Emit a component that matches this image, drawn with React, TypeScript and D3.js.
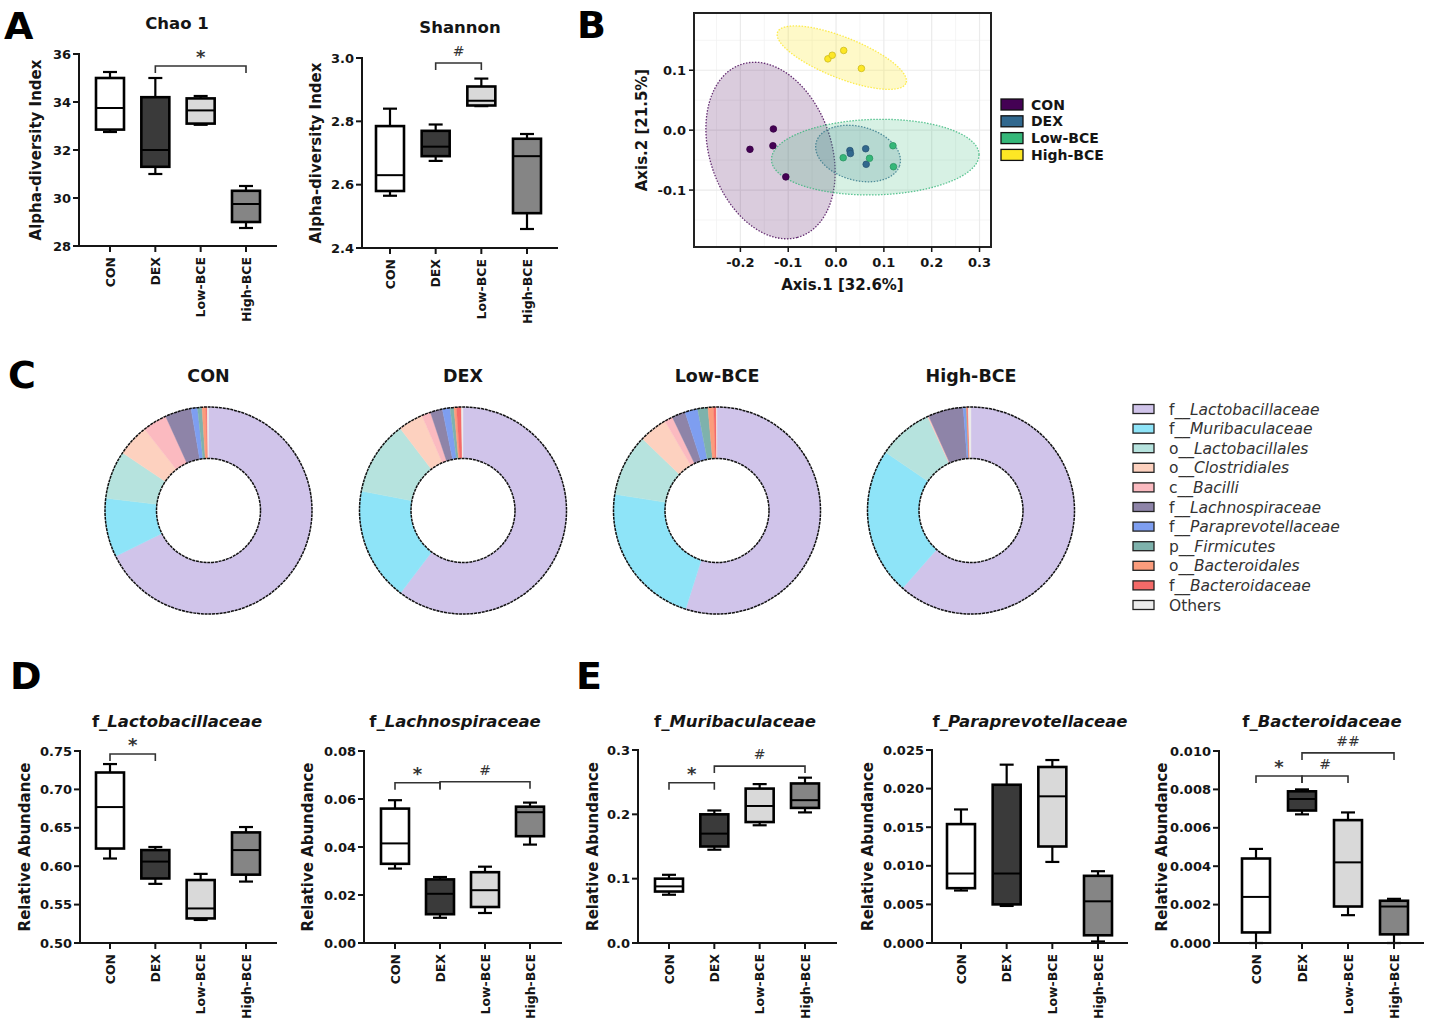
import React from "react";
import * as d3 from "d3";

const FONT = "'DejaVu Sans', 'Liberation Sans', sans-serif";

// ---------- shared categories ----------
const groups = ["CON", "DEX", "Low-BCE", "High-BCE"];
const groupFills = ["#ffffff", "#3a3a3a", "#d9d9d9", "#858585"];

// ---------- box plot statistics: [min, q1, median, q3, max] ----------
const chao1Stats = [
  [32.75, 32.85, 33.75, 35.0, 35.25],
  [31.0, 31.3, 32.0, 34.2, 35.0],
  [33.05, 33.1, 33.65, 34.15, 34.25],
  [28.75, 29.0, 29.75, 30.3, 30.5],
];
const shannonStats = [
  [2.565, 2.58, 2.63, 2.785, 2.84],
  [2.675, 2.69, 2.72, 2.77, 2.79],
  [2.848, 2.85, 2.865, 2.91, 2.935],
  [2.46, 2.51, 2.69, 2.745, 2.76],
];
const lactobacillaceaeStats = [
  [0.61, 0.623, 0.677, 0.722, 0.733],
  [0.577, 0.584, 0.606, 0.621, 0.625],
  [0.53, 0.532, 0.545, 0.582, 0.59],
  [0.58, 0.589, 0.621, 0.644, 0.651],
];
const lachnospiraceaeStats = [
  [0.031, 0.033, 0.0415, 0.056, 0.0595],
  [0.0105, 0.012, 0.0205, 0.0265, 0.0275],
  [0.0125, 0.015, 0.022, 0.0295, 0.0318],
  [0.041, 0.0445, 0.0545, 0.0568, 0.0585],
];
const muribaculaceaeStats = [
  [0.075, 0.08, 0.088, 0.1, 0.106],
  [0.145, 0.15, 0.17, 0.2, 0.206],
  [0.183, 0.188, 0.213, 0.24, 0.247],
  [0.203, 0.21, 0.222, 0.248, 0.257],
];
const paraprevotellaceaeStats = [
  [0.0068, 0.0071, 0.009, 0.0154, 0.0173],
  [0.0048, 0.005, 0.009, 0.0205, 0.0231],
  [0.0105, 0.0125, 0.019, 0.0228, 0.0237],
  [0.0002, 0.001, 0.0054, 0.0087, 0.0093],
];
const bacteroidaceaeStats = [
  [0.0, 0.00055, 0.0024, 0.0044, 0.0049],
  [0.0067, 0.0069, 0.0075, 0.0079, 0.008],
  [0.00145, 0.0019, 0.0042, 0.0064, 0.0068],
  [0.0, 0.00045, 0.0019, 0.0022, 0.0023],
];

// ---------- significance brackets ----------
type Sig = { from: string; to: string; y: number; label: string };
const chao1Sig: Sig[] = [{ from: "DEX", to: "High-BCE", y: 35.5, label: "*" }];
const shannonSig: Sig[] = [{ from: "DEX", to: "Low-BCE", y: 2.984, label: "#" }];
const lactobacillaceaeSig: Sig[] = [{ from: "CON", to: "DEX", y: 0.746, label: "*" }];
const lachnospiraceaeSig: Sig[] = [
  { from: "CON", to: "DEX", y: 0.0668, label: "*" },
  { from: "DEX", to: "High-BCE", y: 0.0672, label: "#" },
];
const muribaculaceaeSig: Sig[] = [
  { from: "CON", to: "DEX", y: 0.249, label: "*" },
  { from: "DEX", to: "High-BCE", y: 0.275, label: "#" },
];
const paraprevotellaceaeSig: Sig[] = [];
const bacteroidaceaeSig: Sig[] = [
  { from: "CON", to: "DEX", y: 0.0087, label: "*" },
  { from: "DEX", to: "Low-BCE", y: 0.0087, label: "#" },
  { from: "DEX", to: "High-BCE", y: 0.0099, label: "##" },
];

// ---------- tick values ----------
const chao1Ticks = [28, 30, 32, 34, 36];
const shannonTicks = [2.4, 2.6, 2.8, 3.0];
const lactoTicks = [0.5, 0.55, 0.6, 0.65, 0.7, 0.75];
const lachnoTicks = [0, 0.02, 0.04, 0.06, 0.08];
const muriTicks = [0, 0.1, 0.2, 0.3];
const paraTicks = [0, 0.005, 0.01, 0.015, 0.02, 0.025];
const bactTicks = [0, 0.002, 0.004, 0.006, 0.008, 0.01];

// ---------- PCoA ----------
const pcoaColors = ["#440154", "#31688e", "#35b779", "#fde725"];
const conPoints = [[-0.18, -0.032], [-0.131, 0.002], [-0.132, -0.026], [-0.105, -0.078]];
const dexPoints = [[0.029, -0.034], [0.03, -0.039], [0.062, -0.031], [0.063, -0.057]];
const lowPoints = [[0.015, -0.046], [0.07, -0.047], [0.119, -0.026], [0.12, -0.061]];
const highPoints = [[-0.017, 0.119], [-0.008, 0.125], [0.016, 0.133], [0.053, 0.103]];
const pcoaPoints = [conPoints, dexPoints, lowPoints, highPoints];
// ellipse: centre, half-axis vector a, half-axis vector b (data units)
const conEllipse = { c: [-0.137, -0.034], a: [0.056, -0.145], b: [-0.123, -0.026] };
const dexEllipse = { c: [0.046, -0.039], a: [0.0865, -0.0211], b: [-0.0195, -0.0422] };
const lowEllipse = { c: [0.082, -0.045], a: [0.217, 0.0044], b: [0.002, -0.063] };
const highEllipse = { c: [0.012, 0.121], a: [0.134, -0.043], b: [-0.018, -0.031] };
const pcoaEllipses = [conEllipse, dexEllipse, lowEllipse, highEllipse];
const pcoaXTicks = [-0.2, -0.1, 0.0, 0.1, 0.2, 0.3];
const pcoaYTicks = [-0.1, 0.0, 0.1];
const pcoaXMinor = [-0.25, -0.15, -0.05, 0.05, 0.15, 0.25];
const pcoaYMinor = [-0.15, -0.05, 0.05, 0.15];

// ---------- composition donuts (percent) ----------
const taxaRank = ["f", "f", "o", "o", "c", "f", "f", "p", "o", "f", ""];
const taxaName = [
  "Lactobacillaceae", "Muribaculaceae", "Lactobacillales", "Clostridiales", "Bacilli",
  "Lachnospiraceae", "Paraprevotellaceae", "Firmicutes", "Bacteroidales", "Bacteroidaceae", "Others",
];
const taxaColors = [
  "#d0c4ea", "#8ee4f8", "#b6e3de", "#fdd1bf", "#fbbac0", "#8e84a8",
  "#7e9ef0", "#7eb2ac", "#fb9c7c", "#f56a68", "#ececec",
];
const conShares = [67.7, 9.2, 7.5, 5.0, 3.8, 4.1, 1.0, 0.7, 0.6, 0.2, 0.2];
const dexShares = [60.3, 17.7, 11.6, 3.9, 1.4, 1.9, 1.2, 0.6, 0.4, 0.75, 0.25];
const lowShares = [54.9, 22.6, 9.7, 4.4, 1.3, 2.1, 2.0, 1.6, 0.9, 0.4, 0.1];
const highShares = [61.5, 23.0, 8.6, 0.1, 0.1, 5.5, 0.4, 0.1, 0.1, 0.15, 0.45];

// =====================================================================

const hyphenFmt = (spec: string) => {
  const f = d3.format(spec);
  return (v: number) => f(v).replace("\u2212", "-");
};

type BoxProps = {
  stats: number[][];
  sig: Sig[];
  domain: [number, number];
  ticks: number[];
  fmt: string;
  left: number;
  right: number;
  top: number;
  bottom: number;
  catStart: number;
  catEnd: number;
  titlePrefix?: string;
  title: string;
  italic?: boolean;
  titleX: number;
  titleY: number;
  ylabel: string;
  ylabelX: number;
};

function BoxPanel(p: BoxProps) {
  const y = d3.scaleLinear().domain(p.domain).range([p.bottom, p.top]);
  const x = d3.scalePoint<string>().domain(groups).range([p.catStart, p.catEnd]);
  const f = hyphenFmt(p.fmt);
  const bw = 28;
  const cw = 14;
  const ink = "#151515";
  return (
    <g>
      <text x={p.titleX} y={p.titleY} textAnchor="middle" fontWeight="bold" fontSize={16.5} fill={ink}>
        {p.titlePrefix ? <tspan>{p.titlePrefix}</tspan> : null}
        <tspan fontStyle={p.italic ? "italic" : "normal"}>{p.title}</tspan>
      </text>
      <text
        transform={`translate(${p.ylabelX},${(p.top + p.bottom) / 2}) rotate(-90)`}
        textAnchor="middle"
        fontWeight="bold"
        fontSize={15}
        fill={ink}
      >
        {p.ylabel}
      </text>
      {p.ticks.map((t) => (
        <g key={t}>
          <line x1={p.left - 6} x2={p.left} y1={y(t)} y2={y(t)} stroke={ink} strokeWidth={2} />
          <text x={p.left - 8} y={y(t)} dy="0.36em" textAnchor="end" fontWeight="bold" fontSize={13} fill={ink}>
            {f(t)}
          </text>
        </g>
      ))}
      {groups.map((g) => (
        <g key={g}>
          <line x1={x(g)} x2={x(g)} y1={p.bottom} y2={p.bottom + 6} stroke={ink} strokeWidth={2} />
          <text
            transform={`translate(${(x(g) as number) + 4.6},${p.bottom + 11}) rotate(-90)`}
            textAnchor="end"
            fontWeight="bold"
            fontSize={12.5}
            fill={ink}
          >
            {g}
          </text>
        </g>
      ))}
      {p.stats.map((s, i) => {
        const cx = x(groups[i]) as number;
        const [mn, q1, md, q3, mx] = s;
        return (
          <g key={i} stroke="#000" strokeWidth={2.2}>
            <line x1={cx} x2={cx} y1={y(mx)} y2={y(q3)} />
            <line x1={cx} x2={cx} y1={y(q1)} y2={y(mn)} />
            <line x1={cx - cw / 2} x2={cx + cw / 2} y1={y(mx)} y2={y(mx)} />
            <line x1={cx - cw / 2} x2={cx + cw / 2} y1={y(mn)} y2={y(mn)} />
            <rect x={cx - bw / 2} y={y(q3)} width={bw} height={y(q1) - y(q3)} fill={groupFills[i]} strokeWidth={2.6} />
            <line x1={cx - bw / 2} x2={cx + bw / 2} y1={y(md)} y2={y(md)} strokeWidth={2} />
          </g>
        );
      })}
      <line x1={p.left} x2={p.left} y1={p.top - 1} y2={p.bottom + 1} stroke={ink} strokeWidth={2} />
      <line x1={p.left - 1} x2={p.right} y1={p.bottom} y2={p.bottom} stroke={ink} strokeWidth={2} />
      {p.sig.map((s, i) => {
        const x1 = x(s.from) as number;
        const x2 = x(s.to) as number;
        const yy = y(s.y);
        const drop = 7;
        const star = s.label === "*";
        return (
          <g key={i}>
            <path
              d={`M${x1},${yy + drop}V${yy}H${x2}V${yy + drop}`}
              fill="none"
              stroke="#333"
              strokeWidth={1.6}
            />
            <text
              x={(x1 + x2) / 2}
              y={yy - (star ? 3 : 7)}
              textAnchor="middle"
              fontSize={star ? 18 : 14}
              fontWeight={star ? "bold" : "normal"}
              fill="#333"
            >
              {s.label}
            </text>
          </g>
        );
      })}
    </g>
  );
}

function PCoA() {
  const L = 694, R = 991, T = 13, B = 247;
  const x = d3.scaleLinear().domain([-0.297, 0.324]).range([L, R]);
  const y = d3.scaleLinear().domain([-0.195, 0.1955]).range([B, T]);
  const ink = "#151515";
  const f = hyphenFmt(".1f");
  const line = d3
    .line<number[]>()
    .x((d) => x(d[0]))
    .y((d) => y(d[1]))
    .curve(d3.curveLinearClosed);
  const ellipsePts = (e: { c: number[]; a: number[]; b: number[] }) =>
    d3.range(0, 2 * Math.PI, Math.PI / 90).map((t) => [
      e.c[0] + e.a[0] * Math.cos(t) + e.b[0] * Math.sin(t),
      e.c[1] + e.a[1] * Math.cos(t) + e.b[1] * Math.sin(t),
    ]);
  return (
    <g>
      {pcoaXMinor.map((v) => (
        <line key={"xm" + v} x1={x(v)} x2={x(v)} y1={T} y2={B} stroke="#f2f2f2" strokeWidth={0.8} />
      ))}
      {pcoaYMinor.map((v) => (
        <line key={"ym" + v} x1={L} x2={R} y1={y(v)} y2={y(v)} stroke="#f2f2f2" strokeWidth={0.8} />
      ))}
      {pcoaXTicks.map((v) => (
        <line key={"xg" + v} x1={x(v)} x2={x(v)} y1={T} y2={B} stroke="#ebebeb" strokeWidth={1.2} />
      ))}
      {pcoaYTicks.map((v) => (
        <line key={"yg" + v} x1={L} x2={R} y1={y(v)} y2={y(v)} stroke="#ebebeb" strokeWidth={1.2} />
      ))}
      {pcoaEllipses.map((e, i) => (
        <path
          key={"e" + i}
          d={line(ellipsePts(e)) || ""}
          fill={pcoaColors[i]}
          fillOpacity={i === 3 ? 0.25 : 0.2}
          stroke={pcoaColors[i]}
          strokeOpacity={0.8}
          strokeWidth={1.3}
          strokeDasharray="1.5 1.5"
        />
      ))}
      {pcoaPoints.map((pts, i) =>
        pts.map((pt, j) => (
          <circle
            key={"p" + i + "-" + j}
            cx={x(pt[0])}
            cy={y(pt[1])}
            r={3.3}
            fill={pcoaColors[i]}
            stroke={d3.color(pcoaColors[i])!.darker(0.6).toString()}
            strokeWidth={0.8}
          />
        ))
      )}
      <rect x={L} y={T} width={R - L} height={B - T} fill="none" stroke="#222" strokeWidth={2} />
      {pcoaXTicks.map((v) => (
        <g key={"xt" + v}>
          <line x1={x(v)} x2={x(v)} y1={B} y2={B + 5} stroke={ink} strokeWidth={1.5} />
          <text x={x(v)} y={B + 20} textAnchor="middle" fontWeight="bold" fontSize={13} fill={ink}>
            {f(v)}
          </text>
        </g>
      ))}
      {pcoaYTicks.map((v) => (
        <g key={"yt" + v}>
          <line x1={L - 5} x2={L} y1={y(v)} y2={y(v)} stroke={ink} strokeWidth={1.5} />
          <text x={L - 8} y={y(v)} dy="0.36em" textAnchor="end" fontWeight="bold" fontSize={13} fill={ink}>
            {f(v)}
          </text>
        </g>
      ))}
      <text x={(L + R) / 2} y={290} textAnchor="middle" fontWeight="bold" fontSize={15} fill={ink}>
        Axis.1 [32.6%]
      </text>
      <text
        transform={`translate(${647},${(T + B) / 2}) rotate(-90)`}
        textAnchor="middle"
        fontWeight="bold"
        fontSize={15}
        fill={ink}
      >
        Axis.2 [21.5%]
      </text>
      {groups.map((g, i) => (
        <g key={"lg" + g} transform={`translate(1001,${104.5 + i * 16.8})`}>
          <rect x={0} y={-5.5} width={22} height={11} fill={pcoaColors[i]} stroke="#111" strokeWidth={1.3} />
          <text x={30} y={0} dy="0.36em" fontWeight="bold" fontSize={14} fill={ink}>
            {g}
          </text>
        </g>
      ))}
    </g>
  );
}

function Donut({ cx, cy, shares, title }: { cx: number; cy: number; shares: number[]; title: string }) {
  const ro = 103.5;
  const ri = 52;
  const pie = d3.pie<number>().sort(null).value((d) => d);
  const arc = d3.arc<d3.PieArcDatum<number>>().innerRadius(ri).outerRadius(ro);
  const arcs = pie(shares);
  return (
    <g transform={`translate(${cx},${cy})`}>
      <text x={0} y={382 - cy} textAnchor="middle" fontWeight="bold" fontSize={17.5} fill="#151515">
        {title}
      </text>
      {arcs.map((a, i) => (
        <path key={i} d={arc(a) || ""} fill={taxaColors[i]} stroke={taxaColors[i]} strokeWidth={0.4} />
      ))}
      <circle r={ro} fill="none" stroke="#111" strokeWidth={1.5} strokeDasharray="3 0.8" />
      <circle r={ri} fill="#fff" stroke="#111" strokeWidth={1.5} strokeDasharray="3 0.8" />
    </g>
  );
}

function DonutLegend() {
  return (
    <g>
      {taxaName.map((n, i) => (
        <g key={n} transform={`translate(1133,${409 + i * 19.6})`}>
          <rect x={0} y={-4.5} width={21} height={9} fill={taxaColors[i]} stroke="#222" strokeWidth={1.3} />
          <text x={36} y={0} dy="0.36em" fontSize={15.5} fill="#333">
            {taxaRank[i] ? <tspan>{taxaRank[i] + "__"}</tspan> : null}
            <tspan fontStyle={taxaRank[i] ? "italic" : "normal"}>{n}</tspan>
          </text>
        </g>
      ))}
    </g>
  );
}

function PanelLetter({ x, y, t }: { x: number; y: number; t: string }) {
  return (
    <text x={x} y={y} fontWeight="bold" fontSize={38} fill="#000">
      {t}
    </text>
  );
}

export default function App() {
  return (
    <svg
      width={1429}
      height={1030}
      style={{ position: "absolute", left: 0, top: 0, background: "#fff" }}
      fontFamily={FONT}
    >
      <rect width={1429} height={1030} fill="#fff" />
      <PanelLetter x={4} y={39} t="A" />
      <PanelLetter x={577} y={38} t="B" />
      <PanelLetter x={8} y={388} t="C" />
      <PanelLetter x={10} y={689} t="D" />
      <PanelLetter x={576} y={689} t="E" />

      <BoxPanel
        stats={chao1Stats}
        sig={chao1Sig}
        domain={[28, 36]}
        ticks={chao1Ticks}
        fmt="d"
        left={79}
        right={277}
        top={54}
        bottom={246}
        catStart={110}
        catEnd={246}
        title="Chao 1"
        titleX={177}
        titleY={29}
        ylabel="Alpha-diversity Index"
        ylabelX={41}
      />
      <BoxPanel
        stats={shannonStats}
        sig={shannonSig}
        domain={[2.4, 3.0]}
        ticks={shannonTicks}
        fmt=".1f"
        left={362}
        right={558}
        top={58}
        bottom={248}
        catStart={390}
        catEnd={527}
        title="Shannon"
        titleX={460}
        titleY={33}
        ylabel="Alpha-diversity Index"
        ylabelX={321}
      />
      <PCoA />

      <Donut cx={208.5} cy={510.5} shares={conShares} title="CON" />
      <Donut cx={463} cy={510.5} shares={dexShares} title="DEX" />
      <Donut cx={717} cy={510.5} shares={lowShares} title="Low-BCE" />
      <Donut cx={971} cy={510.5} shares={highShares} title="High-BCE" />
      <DonutLegend />

      <BoxPanel
        stats={lactobacillaceaeStats}
        sig={lactobacillaceaeSig}
        domain={[0.5, 0.75]}
        ticks={lactoTicks}
        fmt=".2f"
        left={80}
        right={277}
        top={751}
        bottom={943}
        catStart={110}
        catEnd={246}
        titlePrefix="f_"
        title="Lactobacillaceae"
        italic
        titleX={177}
        titleY={727}
        ylabel="Relative Abundance"
        ylabelX={30}
      />
      <BoxPanel
        stats={lachnospiraceaeStats}
        sig={lachnospiraceaeSig}
        domain={[0, 0.08]}
        ticks={lachnoTicks}
        fmt=".2f"
        left={364}
        right={562}
        top={751}
        bottom={943}
        catStart={395}
        catEnd={530}
        titlePrefix="f_"
        title="Lachnospiraceae"
        italic
        titleX={455}
        titleY={727}
        ylabel="Relative Abundance"
        ylabelX={313}
      />
      <BoxPanel
        stats={muribaculaceaeStats}
        sig={muribaculaceaeSig}
        domain={[0, 0.3]}
        ticks={muriTicks}
        fmt=".1f"
        left={638}
        right={837}
        top={750}
        bottom={943}
        catStart={669}
        catEnd={805}
        titlePrefix="f_"
        title="Muribaculaceae"
        italic
        titleX={735}
        titleY={727}
        ylabel="Relative Abundance"
        ylabelX={598}
      />
      <BoxPanel
        stats={paraprevotellaceaeStats}
        sig={paraprevotellaceaeSig}
        domain={[0, 0.025]}
        ticks={paraTicks}
        fmt=".3f"
        left={932}
        right={1128}
        top={750}
        bottom={943}
        catStart={961}
        catEnd={1098}
        titlePrefix="f_"
        title="Paraprevotellaceae"
        italic
        titleX={1030}
        titleY={727}
        ylabel="Relative Abundance"
        ylabelX={873}
      />
      <BoxPanel
        stats={bacteroidaceaeStats}
        sig={bacteroidaceaeSig}
        domain={[0, 0.01]}
        ticks={bactTicks}
        fmt=".3f"
        left={1219}
        right={1424}
        top={751}
        bottom={943}
        catStart={1256}
        catEnd={1394}
        titlePrefix="f_"
        title="Bacteroidaceae"
        italic
        titleX={1322}
        titleY={727}
        ylabel="Relative Abundance"
        ylabelX={1167}
      />
    </svg>
  );
}
